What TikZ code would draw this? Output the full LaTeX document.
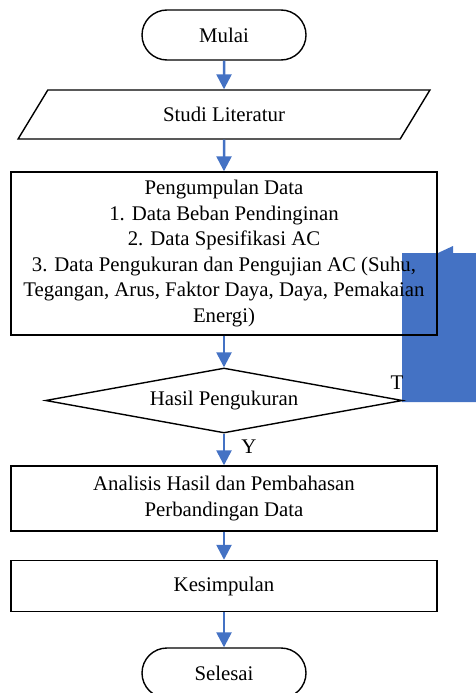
\documentclass[tikz,border=0pt]{standalone}
\usepackage{fontspec}
\setmainfont{Liberation Serif}
\usetikzlibrary{shapes.geometric, arrows.meta}
\definecolor{flowblue}{HTML}{4472C4}
\tikzset{
    terminal/.style={draw, line width=1.4pt, rectangle, rounded corners=25pt, minimum width=164pt, minimum height=50pt},
    process/.style={draw, line width=1.4pt, rectangle, minimum width=426pt, align=center},
    inout/.style={draw, line width=1.4pt, trapezium, trapezium left angle=63, trapezium right angle=117, trapezium stretches=true, minimum width=412pt, minimum height=49pt},
    decision/.style={draw, line width=1.4pt, diamond, aspect=5.5, minimum width=357pt, minimum height=65pt, inner sep=0pt},
    flow/.style={flowblue, line width=2.5pt, -{Triangle[width=15pt,length=15pt]}}
}

\begin{document}
\begin{tikzpicture}[x=1pt, y=-1pt, font=\fontsize{20.8}{25.6}\selectfont]
    \useasboundingbox (0,0) rectangle (475,693);

    % Blue block on the right
    \fill[flowblue] (402,253) -- (438,253) -- (453,246) -- (453,253) -- (480,253)
        -- (480,402) -- (402,402) -- cycle;

    % Nodes
    \node[terminal] (mulai) at (224,35) {Mulai};
    \node[inout] (studi) at (224,114.5) {Studi Literatur};
    \node[process, minimum height=163pt] (data) at (224,253.5) {Pengumpulan Data\\
        1. Data Beban Pendinginan\\
        2. Data Spesifikasi AC\\
        3. Data Pengukuran dan Pengujian AC (Suhu,\\
        Tegangan, Arus, Faktor Daya, Daya, Pemakaian\\
        Energi)};
    \node[decision] (hasil) at (224,400.5) {Hasil Pengukuran};
    \node[process, minimum height=65pt] (analisis) at (224,498.5) {Analisis Hasil dan Pembahasan\\Perbandingan Data};
    \node[process, minimum height=51pt] (simpul) at (224,586) {Kesimpulan};
    \node[terminal] (selesai) at (224,673) {Selesai};

    % Branch labels
    \node (labelT) at (397,383) {T};
    \node (labelY) at (249,447) {Y};

    % Arrows
    \draw[flow] (mulai) -- (studi);
    \draw[flow] (studi) -- (data);
    \draw[flow] (data) -- (hasil);
    \draw[flow] (hasil) -- (analisis);
    \draw[flow] (analisis) -- (simpul);
    \draw[flow] (simpul) -- (selesai);
\end{tikzpicture}
\end{document}
